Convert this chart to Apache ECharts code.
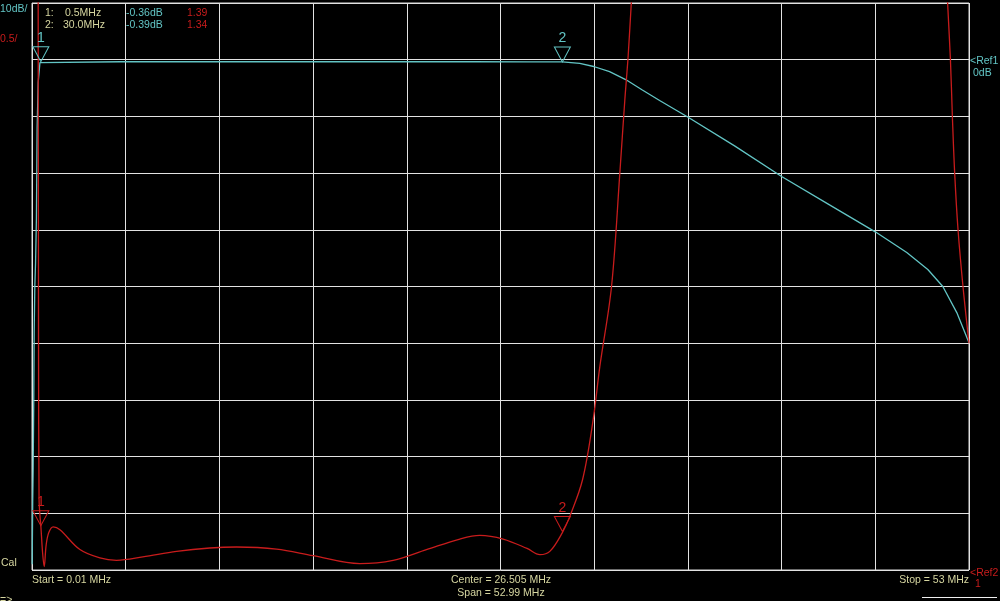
<!DOCTYPE html>
<html>
<head>
<meta charset="utf-8">
<script src="https://cdn.jsdelivr.net/npm/echarts@6/dist/echarts.min.js"></script>
<style>
html,body{margin:0;padding:0;background:#000;}
#chart{width:1000px;height:601px;}
</style>
</head>
<body>
<div id="chart"></div>
<script>
// Trace 1 (cyan): transmission, dB (10 dB/div, Ref 0 dB)
const freqCyan = [0.01, 0.04, 0.067, 0.1, 0.123, 0.16, 0.2, 0.25, 0.29, 0.35, 0.45, 0.5, 5, 10, 15, 20, 25, 28, 30, 30.98, 31.77, 32.67, 33.58, 34.5, 35.5, 37.09, 39.74, 42.4, 45.11, 47.72, 49.48, 50.67, 51.52, 52.31, 53.0];
const dbCyan = [-89, -78, -72, -60, -48, -40, -36, -28, -12, -4, -0.5, -0.36, -0.36, -0.36, -0.36, -0.36, -0.36, -0.37, -0.39, -0.65, -1.2, -2.1, -3.5, -5.3, -7.2, -10.1, -15.2, -20.6, -25.6, -30.4, -34.0, -37.0, -40.0, -44.6, -49.9];

// Trace 2 (red): SWR (0.5/div, Ref 1)
const freqRed = [0.01, 0.3, 0.34, 0.37, 0.4, 0.45, 0.5, 0.6, 0.69, 0.8, 0.95, 1.2, 1.58, 2.71, 3.84, 4.78, 6.27, 8.18, 10.06, 11.57, 13.83, 15.9, 18.54, 20.43, 22.31, 24.2, 25.33, 26.65, 28.0, 28.73, 29.29, 30.0, 30.42, 31.14, 31.74, 32.12, 32.78, 33.25, 33.53, 33.72, 33.91, 34.5, 40, 46, 51, 51.5, 51.78, 51.95, 52.06, 52.19, 52.38, 52.66, 53.0];
const swrRed = [20, 18, 8, 3, 1.62, 1.48, 1.39, 1.15, 1.03, 1.22, 1.33, 1.38, 1.355, 1.18, 1.106, 1.085, 1.115, 1.164, 1.194, 1.203, 1.185, 1.126, 1.056, 1.085, 1.179, 1.273, 1.305, 1.273, 1.19, 1.135, 1.164, 1.33, 1.473, 1.796, 2.325, 2.795, 3.5, 4.5, 5.14, 5.53, 6.03, 7.5, 20, 20, 9, 7, 6.03, 5.5, 5.0, 4.5, 4.0, 3.5, 3.0];

// Markers
const markerFreqs = [0.5, 30.0];
const markerDb = [-0.36, -0.39];
const markerSwr = [1.39, 1.34];
const markerNames = ['1', '2'];

const CYAN = '#62c4c4', RED = '#c81c1c', KHAKI = '#d6d6a0';
const FONT = '"Liberation Sans", Arial, sans-serif';

const cyanData = freqCyan.map((f, i) => [f, dbCyan[i]]);
const redData = freqRed.map((f, i) => [f, swrRed[i]]);

const tri = 'path://M0,0L16,0L8,15Z';
function markers(vals, color) {
  return {
    symbol: tri, symbolSize: [16, 15], symbolOffset: [0, '-50%'],
    itemStyle: { color: 'rgba(0,0,0,0)', borderColor: color, borderWidth: 1 },
    label: { show: true, position: 'top', distance: 1, color: color, fontSize: 14, fontFamily: FONT,
      formatter: p => p.name },
    data: markerFreqs.map((f, i) => ({ name: markerNames[i], coord: [f, vals[i]] })),
    animation: false
  };
}

function txt(x, y, text, color, align, extra) {
  return Object.assign({ type: 'text', x: x, y: y, silent: true,
    style: { text: text, fill: color, font: '10.5px ' + FONT, textAlign: align || 'left', textVerticalAlign: 'middle' } }, extra || {});
}

const chart = echarts.init(document.getElementById('chart'), null, { renderer: 'canvas' });
chart.setOption({
  backgroundColor: '#000',
  animation: false,
  grid: { left: 32, top: 3, width: 937, height: 567, show: true, borderColor: '#d8d8d8', borderWidth: 1, backgroundColor: 'transparent' },
  xAxis: { type: 'value', min: 0, max: 53, interval: 5.3,
    axisLine: { show: false }, axisTick: { show: false }, axisLabel: { show: false },
    splitLine: { show: true, lineStyle: { color: '#e2e2e2', width: 1 } } },
  yAxis: [
    { type: 'value', min: -90, max: 10, interval: 10,
      axisLine: { show: false }, axisTick: { show: false }, axisLabel: { show: false },
      splitLine: { show: true, lineStyle: { color: '#e2e2e2', width: 1 } } },
    { type: 'value', min: 1, max: 6, interval: 0.5, position: 'right',
      axisLine: { show: false }, axisTick: { show: false }, axisLabel: { show: false },
      splitLine: { show: false } }
  ],
  series: [
    { type: 'line', name: 'S21', data: cyanData, yAxisIndex: 0, showSymbol: false, symbol: 'none',
      clip: true, lineStyle: { color: CYAN, width: 1.3 }, markPoint: markers(markerDb, CYAN) },
    { type: 'line', name: 'SWR', data: redData, yAxisIndex: 1, showSymbol: false, symbol: 'none',
      clip: true, smooth: 0.35, lineStyle: { color: RED, width: 1.3 }, markPoint: markers(markerSwr, RED) }
  ],
  graphic: [
    txt(0, 9, '10dB/', CYAN),
    txt(0, 39, '0.5/', RED),
    txt(45, 13, '1:', KHAKI), txt(65, 13, '0.5MHz', KHAKI),
    txt(45, 25, '2:', KHAKI), txt(63, 25, '30.0MHz', KHAKI),
    txt(126, 13, '-0.36dB', CYAN), txt(126, 25, '-0.39dB', CYAN),
    txt(187, 13, '1.39', RED), txt(187, 25, '1.34', RED),
    txt(970, 61, '<Ref1', CYAN), txt(973, 73, '0dB', CYAN),
    txt(970, 573, '<Ref2', RED), txt(975, 584, '1', RED),
    txt(1, 563, 'Cal', KHAKI),
    txt(32, 580, 'Start = 0.01 MHz', KHAKI),
    txt(501, 580, 'Center = 26.505 MHz', KHAKI, 'center'),
    txt(501, 593, 'Span = 52.99 MHz', KHAKI, 'center'),
    txt(969, 580, 'Stop = 53 MHz', KHAKI, 'right'),
    txt(0, 600, '=>', KHAKI),
    { type: 'line', silent: true, shape: { x1: 922, y1: 597.5, x2: 997, y2: 597.5 }, style: { stroke: '#f0f0f0', lineWidth: 1 } }
  ]
});
</script>
</body>
</html>
